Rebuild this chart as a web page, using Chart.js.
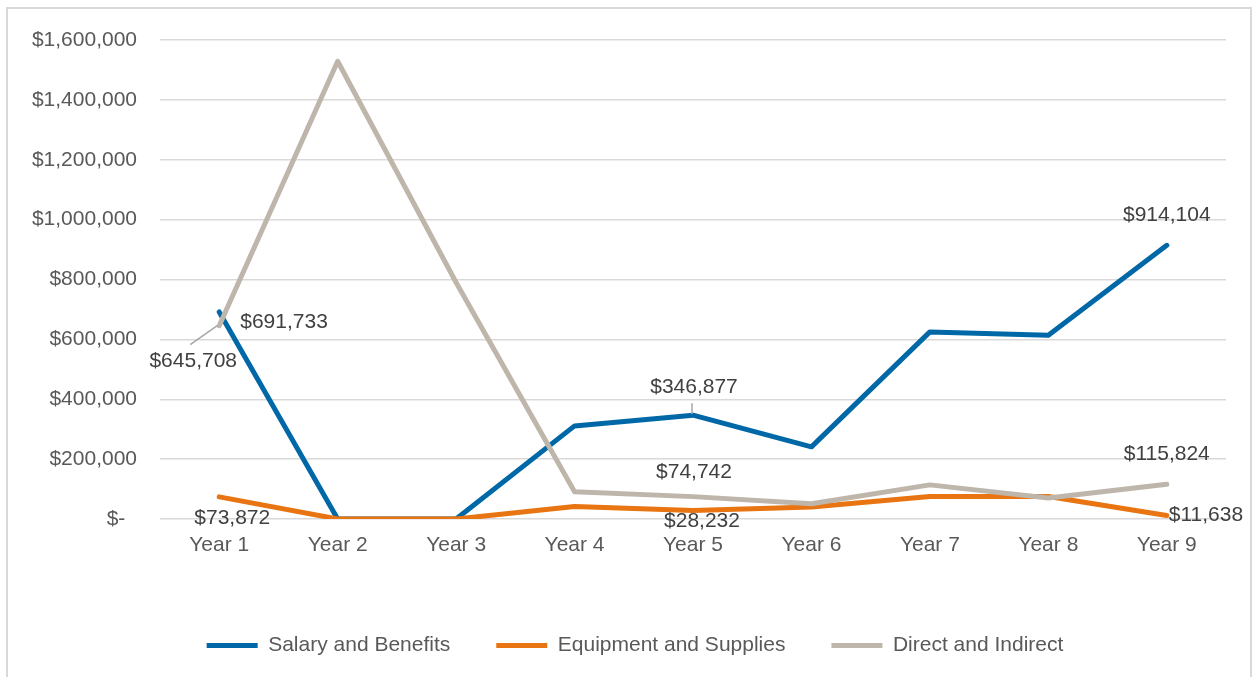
<!DOCTYPE html>
<html>
<head>
<meta charset="utf-8">
<script src="https://cdn.jsdelivr.net/npm/chart.js@4.4.1/dist/chart.umd.min.js"></script>
<style>
  html, body { margin: 0; padding: 0; background: #fff; overflow: hidden; }
  #frame {
    position: absolute; left: 6px; top: 7px;
    width: 1242px; height: 670px;
    border: 2px solid #d9d9d9;
  }
</style>
</head>
<body>
<div id="frame"><canvas id="costChart"></canvas></div>
<script>
const years = ["Year 1", "Year 2", "Year 3", "Year 4", "Year 5", "Year 6", "Year 7", "Year 8", "Year 9"];
const salaryBenefits = [691733, 0, 0, 311000, 346877, 241000, 625000, 614000, 914104];
const equipmentSupplies = [73872, 0, 0, 42000, 28232, 40000, 75000, 75000, 11638];
const directIndirect = [645708, 1529000, 790000, 91000, 74742, 51000, 114000, 70000, 115824];
const yTicks = [0, 200000, 400000, 600000, 800000, 1000000, 1200000, 1400000, 1600000];

const FONT = "'Liberation Sans', Arial, sans-serif";

function fmt(v) {
  return "$" + v.toLocaleString("en-US");
}

// which points get a value label and where it sits relative to the point
const labelSpots = [
  { ds: 0, i: 0, dx: 21, dy: 10, align: "left" },
  { ds: 0, i: 4, dx: 1, dy: -28, align: "center", leader: [-1, -12, -1, -1] },
  { ds: 0, i: 8, dx: 0, dy: -30, align: "center" },
  { ds: 1, i: 0, dx: 13, dy: 21, align: "center" },
  { ds: 1, i: 4, dx: 9, dy: 11, align: "center" },
  { ds: 1, i: 8, dx: 2, dy: 0, align: "left" },
  { ds: 2, i: 0, dx: -26, dy: 36, align: "center", leader: [-29, 19, -2, 0] },
  { ds: 2, i: 4, dx: 1, dy: -24, align: "center" },
  { ds: 2, i: 8, dx: 0, dy: -30, align: "center" }
];

const valueLabels = {
  id: "valueLabels",
  afterDatasetsDraw(chart) {
    const ctx = chart.ctx;
    ctx.save();
    ctx.font = "21px " + FONT;
    ctx.textBaseline = "middle";
    labelSpots.forEach(s => {
      const pt = chart.getDatasetMeta(s.ds).data[s.i];
      const val = chart.data.datasets[s.ds].data[s.i];
      if (s.leader) {
        ctx.strokeStyle = "#a6a6a6";
        ctx.lineWidth = 1.5;
        ctx.beginPath();
        ctx.moveTo(pt.x + s.leader[0], pt.y + s.leader[1]);
        ctx.lineTo(pt.x + s.leader[2], pt.y + s.leader[3]);
        ctx.stroke();
      }
      ctx.fillStyle = "#404040";
      ctx.textAlign = s.align;
      ctx.fillText(fmt(val), pt.x + s.dx, pt.y + s.dy);
    });
    ctx.restore();
  }
};

// legend row sits a little right of the canvas centre
const legendNudge = {
  id: "legendNudge",
  afterLayout(chart) {
    chart.legend.left += 18;
    chart.legend.right += 18;
  }
};

function lineSet(label, data, color, order) {
  return {
    label: label,
    data: data,
    borderColor: color,
    backgroundColor: color,
    borderWidth: 5,
    borderCapStyle: "round",
    borderJoinStyle: "round",
    pointRadius: 0,
    pointHoverRadius: 0,
    tension: 0,
    order: order
  };
}

const ctx = document.getElementById("costChart").getContext("2d");
new Chart(ctx, {
  type: "line",
  data: {
    labels: years,
    datasets: [
      lineSet("Salary and Benefits", salaryBenefits, "#0068a6", 3),
      lineSet("Equipment and Supplies", equipmentSupplies, "#e87511", 2),
      lineSet("Direct and Indirect", directIndirect, "#beb6ab", 1)
    ]
  },
  options: {
    responsive: true,
    maintainAspectRatio: false,
    animation: false,
    layout: { padding: { left: 0, right: 24, top: 31, bottom: 13 } },
    scales: {
      x: {
        offset: true,
        grid: { display: false, drawTicks: false },
        border: { display: false },
        ticks: { color: "#595959", font: { family: FONT, size: 21 }, padding: 14, maxRotation: 0 },
        afterFit(scale) { scale.height = 70; }
      },
      y: {
        min: 0,
        max: 1600000,
        afterBuildTicks(scale) { scale.ticks = yTicks.map(v => ({ value: v })); },
        grid: { color: "#d9d9d9", lineWidth: 1.5, drawTicks: true, tickLength: 23, tickColor: "rgba(0,0,0,0)" },
        border: { display: false },
        ticks: {
          color: "#595959",
          font: { family: FONT, size: 21 },
          padding: 0,
          callback: v => (v === 0 ? "$-  " : fmt(v))
        },
        afterFit(scale) { scale.width = 152; }
      }
    },
    plugins: {
      legend: {
        position: "bottom",
        labels: {
          usePointStyle: true,
          pointStyle: "line",
          pointStyleWidth: 51,
          padding: 46,
          color: "#595959",
          font: { family: FONT, size: 21 },
          sort: (a, b) => a.datasetIndex - b.datasetIndex
        }
      },
      tooltip: { enabled: false }
    }
  },
  plugins: [valueLabels, legendNudge]
});
</script>
</body>
</html>
